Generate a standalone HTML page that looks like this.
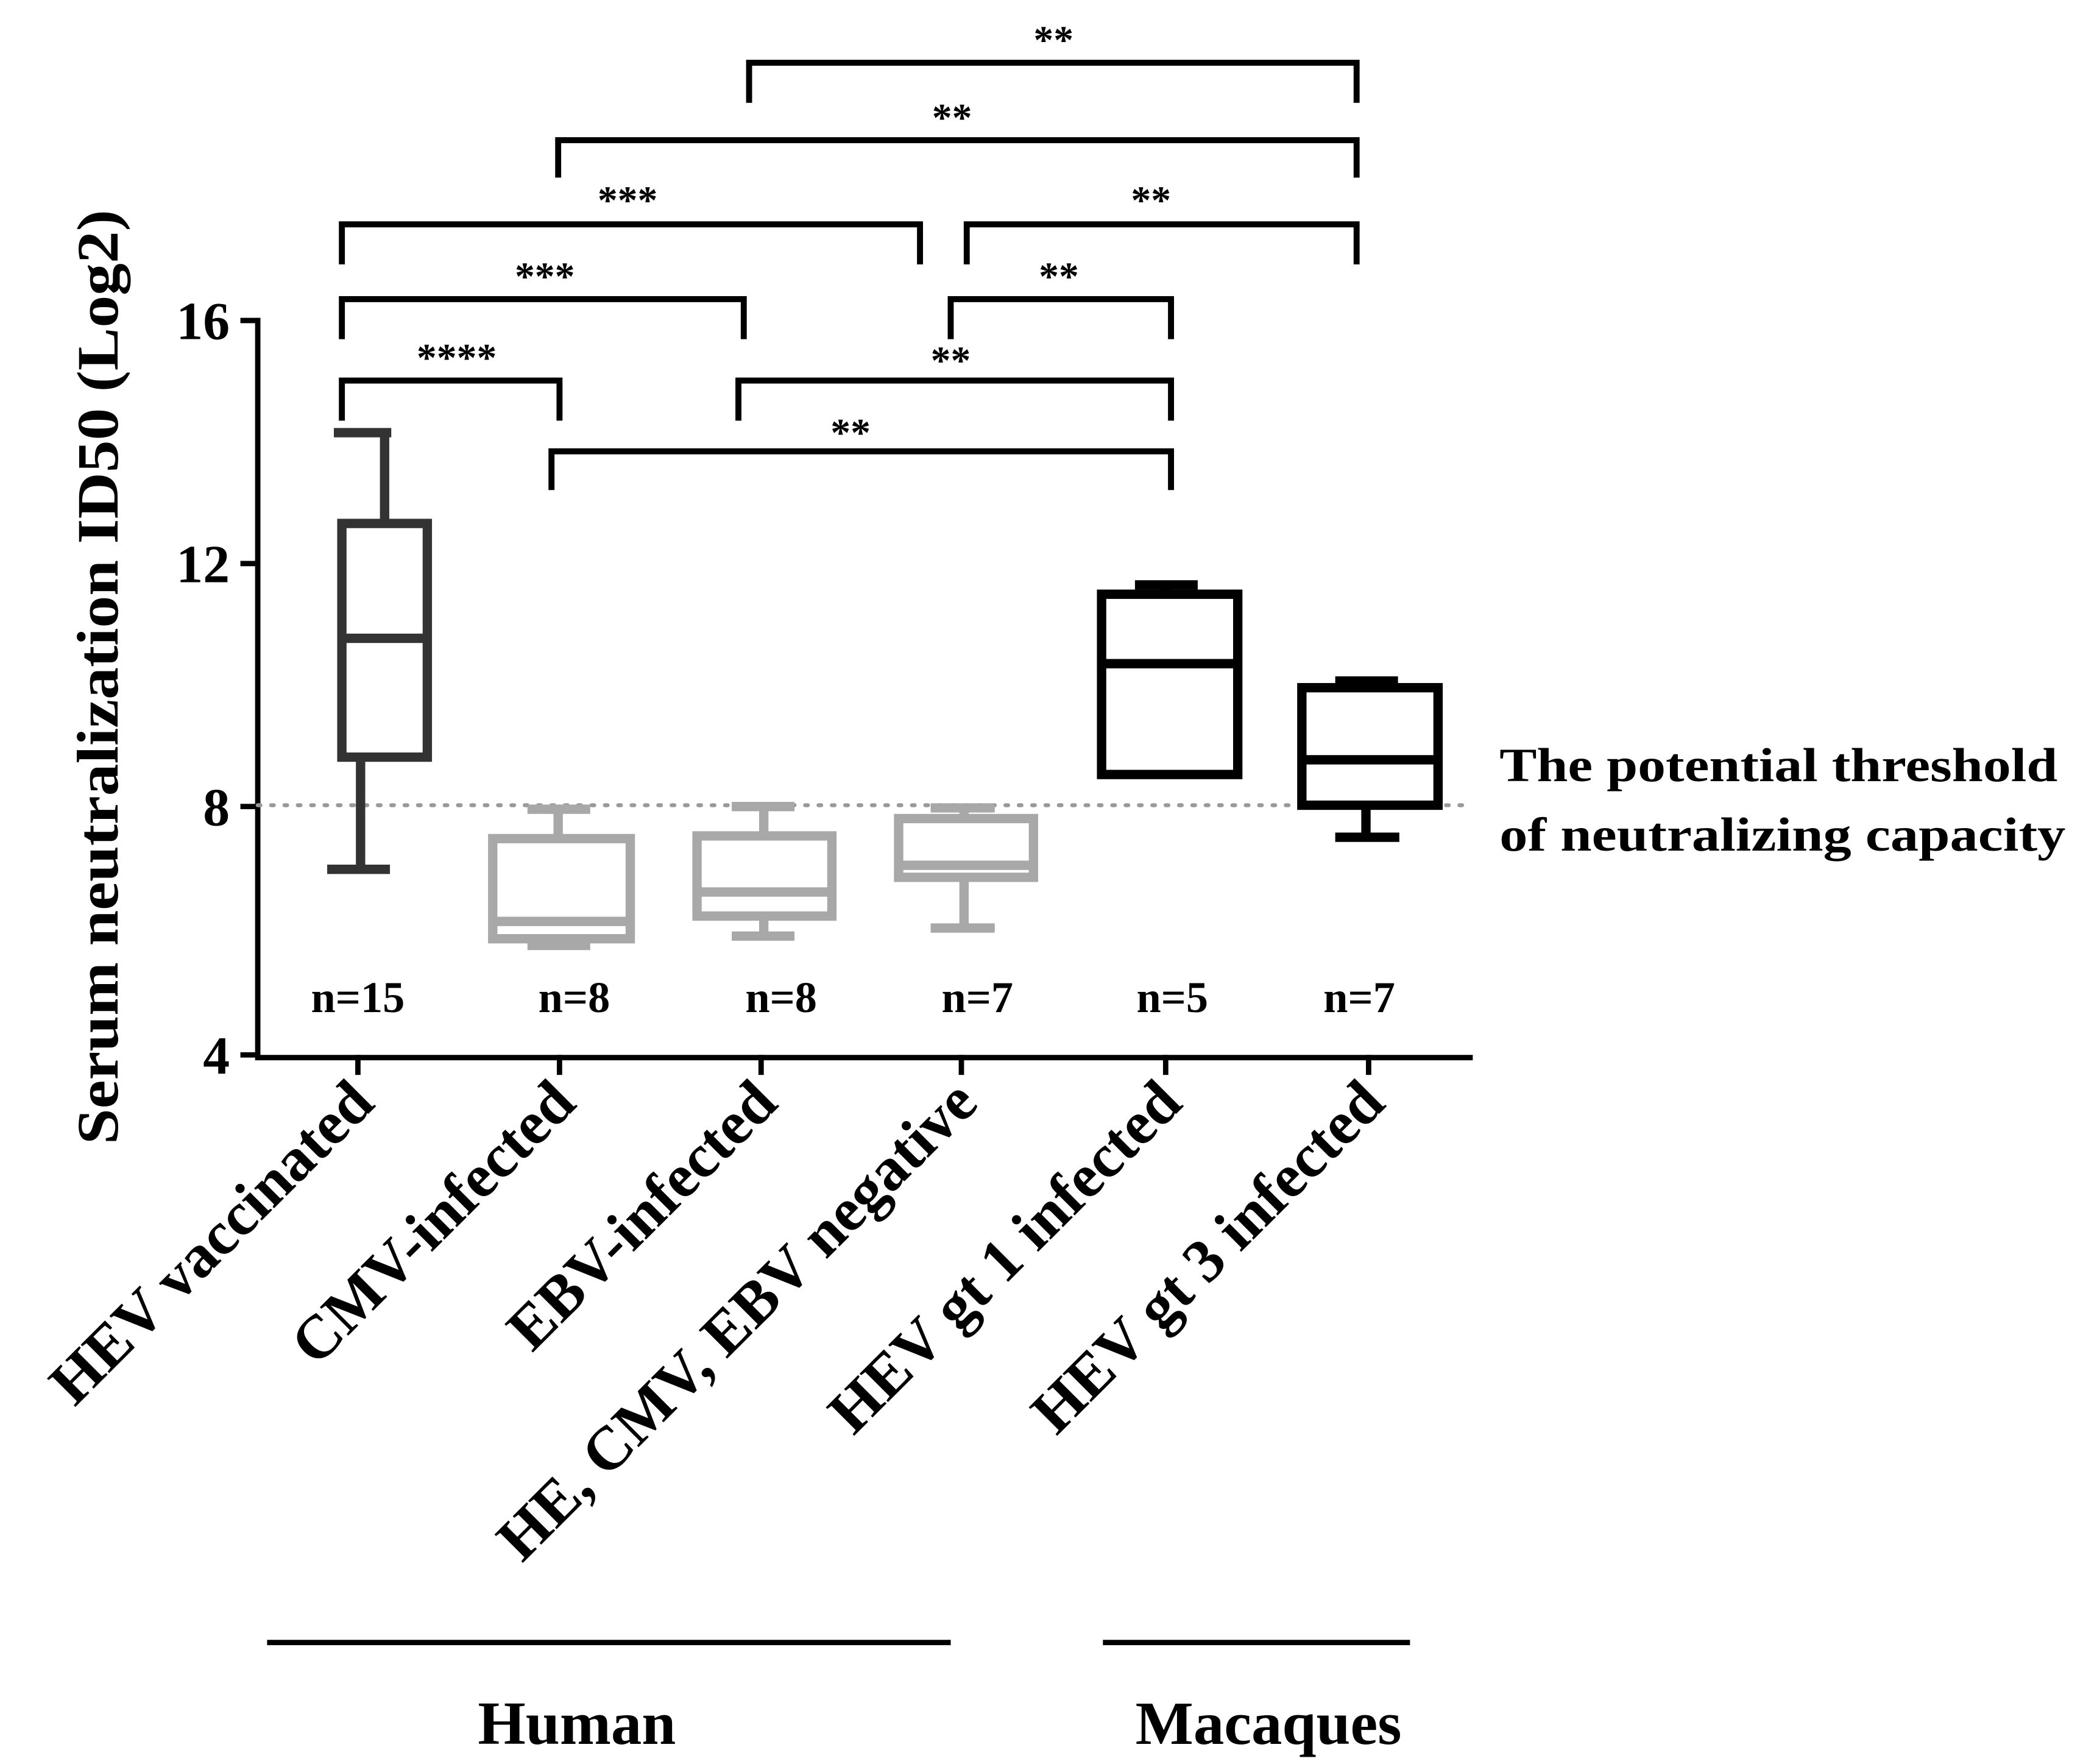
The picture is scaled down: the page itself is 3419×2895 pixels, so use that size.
<!DOCTYPE html>
<html><head><meta charset="utf-8"><style>html,body{margin:0;padding:0;background:#fff}svg{display:block}</style></head>
<body>
<svg width="3419" height="2895" viewBox="0 0 1560 1321" xmlns="http://www.w3.org/2000/svg" font-family="Liberation Serif, serif" font-weight="bold">
<rect width="1560" height="1321" fill="#fff"/>
<g stroke="#000" stroke-width="4" fill="none">
<path d="M193 238 V792 H1103"/>
<path d="M180 240H193M180 422H193M180 604H193M180 790H193"/>
<path d="M268 790V805M419 790V805M570 790V805M720 790V805M873 790V805M1025 790V805"/>
</g>
<g font-size="40" text-anchor="end"><text x="172" y="254">16</text><text x="172" y="436">12</text><text x="172" y="618">8</text><text x="172" y="804">4</text></g>
<text transform="translate(88,507) rotate(-90)" font-size="44" text-anchor="middle" textLength="700" lengthAdjust="spacingAndGlyphs">Serum neutralization ID50 (Log2)</text>
<line x1="193" y1="603" x2="1103" y2="603" stroke="#999" stroke-width="3" stroke-dasharray="2,8" stroke-linecap="round"/>
<g fill="none" stroke-width="7">
<g stroke="#333"><rect x="256" y="392" width="64" height="175"/><path d="M256 478H320M288 392V324M250 324H293M270 567V651M245 651H292"/></g>
<g stroke="#a8a8a8"><rect x="369" y="628" width="103" height="75"/><path d="M369 690H472M418 628V606M395 606H442M418 703V708M395 708H442"/>
<rect x="522" y="626" width="101" height="60"/><path d="M522 668H623M572 626V604M548 604H595M572 686V701M548 701H595"/>
<rect x="673" y="613" width="101" height="44"/><path d="M673 648H774M722 613V605M697 605H745M722 657V695M697 695H745"/></g>
<g stroke="#000"><rect x="825" y="445" width="102" height="135"/><path d="M825 497H927M873 445V438M850 438H897"/>
<rect x="975" y="515" width="102" height="88"/><path d="M975 569H1077M1023 515V510M1000 510H1047M1023 603V627M1000 627H1048"/></g>
</g>
<g font-size="36"><text x="1123" y="585" textLength="418" lengthAdjust="spacingAndGlyphs">The potential threshold</text><text x="1123" y="637" textLength="424" lengthAdjust="spacingAndGlyphs">of neutralizing capacity</text></g>
<g font-size="33" text-anchor="middle"><text x="268" y="758">n=15</text><text x="430" y="758">n=8</text><text x="585" y="758">n=8</text><text x="732" y="758">n=7</text><text x="878" y="758">n=5</text><text x="1018" y="758">n=7</text></g>
<g stroke="#000" stroke-width="4.5" fill="none">
<path d="M561 77V47H1016V77"/><path d="M418 133V105H1016V133"/><path d="M256 198V168H689V198"/><path d="M724 198V168H1016V198"/>
<path d="M256 254V224H557V254"/><path d="M712 254V224H877V254"/><path d="M256 315V285H419V315"/><path d="M553 315V285H877V315"/><path d="M413 367V338H877V367"/>
</g>
<g font-size="30" text-anchor="middle">
<text x="789" y="40">**</text><text x="713" y="98">**</text><text x="470" y="160">***</text><text x="862" y="160">**</text><text x="408" y="217">***</text><text x="793" y="217">**</text><text x="342" y="278">****</text><text x="712" y="280">**</text><text x="637" y="334">**</text>
</g>
<g font-size="46" text-anchor="end">
<text transform="translate(282,828) rotate(-45)">HEV vaccinated</text>
<text transform="translate(433,828) rotate(-45)">CMV-infected</text>
<text transform="translate(584,828) rotate(-45)">EBV-infected</text>
<text transform="translate(734,828) rotate(-45)">HE, CMV, EBV negative</text>
<text transform="translate(887,828) rotate(-45)">HEV gt 1 infected</text>
<text transform="translate(1039,828) rotate(-45)">HEV gt 3 infected</text>
</g>
<g stroke="#000" stroke-width="4"><line x1="200" y1="1230" x2="712" y2="1230"/><line x1="826" y1="1230" x2="1056" y2="1230"/></g>
<g font-size="46" text-anchor="middle"><text x="432" y="1306">Human</text><text x="950" y="1306">Macaques</text></g>
</svg>
</body></html>
